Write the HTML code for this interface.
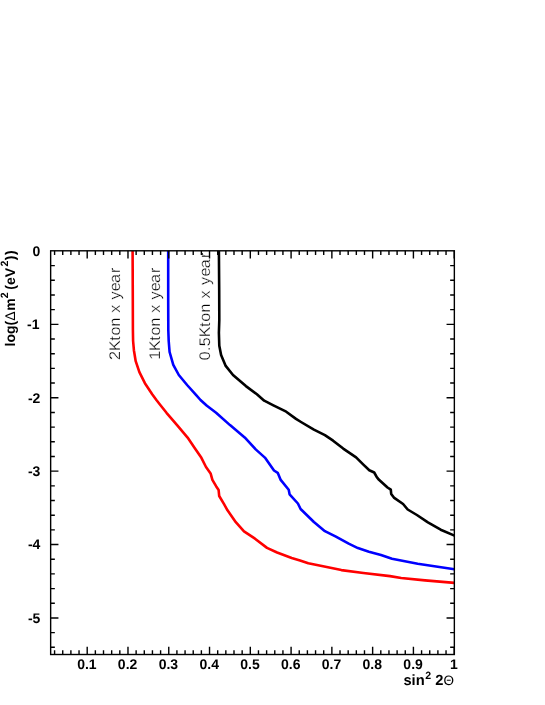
<!DOCTYPE html>
<html><head><meta charset="utf-8"><title>plot</title>
<style>html,body{margin:0;padding:0;background:#fff;}svg{display:block;will-change:transform;}text{font-family:"Liberation Sans",sans-serif;text-rendering:geometricPrecision;}</style></head><body>
<svg width="545" height="705" viewBox="0 0 545 705">
<rect x="0" y="0" width="545" height="705" fill="#fff"/>
<defs><clipPath id="c"><rect x="50.65" y="250.8" width="403.7" height="403.7"/></clipPath></defs>
<g clip-path="url(#c)" font-size="15.4" fill="#000" stroke="#fff" stroke-width="0.3">
<text transform="translate(120.2,359.9) rotate(-90) scale(1.04,1)" x="-0.05 8.54 18.50 23.37 32.05 40.71 45.35 53.34 58.02 66.00 73.97 83.59">2Kton x year</text>
<text transform="translate(160.4,359.9) rotate(-90) scale(1.04,1)" x="0.05 8.54 18.50 23.37 32.05 40.71 45.35 53.34 58.02 66.00 73.97 83.59">1Kton x year</text>
<text transform="translate(209.8,360.5) rotate(-90) scale(1.04,1)" x="0.21 9.09 13.64 22.27 32.34 37.33 46.16 54.90 59.69 67.75 72.58 80.71 88.81 98.57">0.5Kton x year</text>
</g>
<g clip-path="url(#c)" fill="none" stroke-width="2.6" stroke-linejoin="round" stroke-linecap="butt">
<path d="M218.9,251.0 L219.2,290.0 L219.3,320.0 L218.9,332.8 L219.3,345.7 L221.1,354.9 L225.7,365.9 L233.0,375.0 L245.9,386.1 L256.9,394.3 L264.2,400.7 L273.4,405.3 L286.2,411.7 L296.0,418.9 L301.0,422.0 L313.9,429.7 L324.9,435.2 L333.1,440.7 L343.2,448.6 L356.1,457.4 L363.4,464.6 L369.3,470.3 L374.2,472.5 L376.8,477.2 L379.0,479.8 L387.5,487.5 L390.8,489.7 L391.2,493.9 L393.9,497.6 L403.1,504.0 L407.7,509.5 L416.9,515.0 L427.9,522.4 L440.7,529.7 L454.5,535.6" stroke="#000"/>
<path d="M168.2,251.0 L168.2,300.0 L168.3,330.0 L168.7,341.0 L169.6,352.0 L173.3,364.9 L178.8,375.0 L187.1,385.0 L196.2,395.1 L200.5,400.0 L206.9,405.8 L216.1,412.8 L230.0,425.1 L244.7,437.4 L255.7,449.4 L264.9,457.6 L274.0,470.5 L277.7,472.8 L280.5,479.6 L288.7,489.7 L289.6,494.3 L297.9,503.5 L300.6,509.0 L313.9,522.0 L324.9,531.2 L335.9,536.7 L348.7,543.7 L357.9,548.1 L368.9,551.7 L381.0,555.0 L392.0,558.7 L417.7,563.7 L454.4,569.2" stroke="#0000ff"/>
<path d="M132.6,251.0 L132.8,300.0 L132.9,330.0 L133.1,341.0 L133.9,350.2 L135.7,361.2 L139.4,372.2 L144.9,383.2 L152.2,394.2 L156.4,400.0 L160.5,405.2 L166.5,412.8 L177.5,425.7 L187.6,437.6 L195.0,448.6 L201.4,457.8 L206.0,467.0 L210.6,473.4 L212.4,479.8 L216.1,486.2 L218.6,489.9 L219.2,496.0 L223.9,503.9 L227.5,510.3 L235.8,522.2 L244.0,531.4 L255.0,538.7 L267.0,547.9 L277.1,552.5 L291.7,558.0 L300.0,560.4 L308.3,563.3 L326.7,567.0 L341.4,570.1 L363.4,573.0 L390.0,576.1 L401.2,578.0 L425.0,580.4 L454.4,582.9" stroke="#ff0000"/>
</g>
<g stroke="#000" stroke-width="1.4" fill="none" stroke-linecap="butt">
<rect x="50.65" y="250.8" width="403.7" height="403.7"/>
<path d="M54.58,654.5v-4.2M54.58,250.8v4.2M62.73,654.5v-4.2M62.73,250.8v4.2M70.89,654.5v-4.2M70.89,250.8v4.2M79.04,654.5v-4.2M79.04,250.8v4.2M87.20,654.5v-7.8M87.20,250.8v7.8M95.36,654.5v-4.2M95.36,250.8v4.2M103.51,654.5v-4.2M103.51,250.8v4.2M111.67,654.5v-4.2M111.67,250.8v4.2M119.82,654.5v-4.2M119.82,250.8v4.2M127.98,654.5v-7.8M127.98,250.8v7.8M136.13,654.5v-4.2M136.13,250.8v4.2M144.29,654.5v-4.2M144.29,250.8v4.2M152.44,654.5v-4.2M152.44,250.8v4.2M160.60,654.5v-4.2M160.60,250.8v4.2M168.76,654.5v-7.8M168.76,250.8v7.8M176.91,654.5v-4.2M176.91,250.8v4.2M185.07,654.5v-4.2M185.07,250.8v4.2M193.22,654.5v-4.2M193.22,250.8v4.2M201.38,654.5v-4.2M201.38,250.8v4.2M209.53,654.5v-7.8M209.53,250.8v7.8M217.69,654.5v-4.2M217.69,250.8v4.2M225.84,654.5v-4.2M225.84,250.8v4.2M234.00,654.5v-4.2M234.00,250.8v4.2M242.16,654.5v-4.2M242.16,250.8v4.2M250.31,654.5v-7.8M250.31,250.8v7.8M258.47,654.5v-4.2M258.47,250.8v4.2M266.62,654.5v-4.2M266.62,250.8v4.2M274.78,654.5v-4.2M274.78,250.8v4.2M282.93,654.5v-4.2M282.93,250.8v4.2M291.09,654.5v-7.8M291.09,250.8v7.8M299.24,654.5v-4.2M299.24,250.8v4.2M307.40,654.5v-4.2M307.40,250.8v4.2M315.56,654.5v-4.2M315.56,250.8v4.2M323.71,654.5v-4.2M323.71,250.8v4.2M331.87,654.5v-7.8M331.87,250.8v7.8M340.02,654.5v-4.2M340.02,250.8v4.2M348.18,654.5v-4.2M348.18,250.8v4.2M356.33,654.5v-4.2M356.33,250.8v4.2M364.49,654.5v-4.2M364.49,250.8v4.2M372.64,654.5v-7.8M372.64,250.8v7.8M380.80,654.5v-4.2M380.80,250.8v4.2M388.96,654.5v-4.2M388.96,250.8v4.2M397.11,654.5v-4.2M397.11,250.8v4.2M405.27,654.5v-4.2M405.27,250.8v4.2M413.42,654.5v-7.8M413.42,250.8v7.8M421.58,654.5v-4.2M421.58,250.8v4.2M429.73,654.5v-4.2M429.73,250.8v4.2M437.89,654.5v-4.2M437.89,250.8v4.2M446.04,654.5v-4.2M446.04,250.8v4.2M454.20,654.5v-7.8M454.20,250.8v7.8M50.65,265.63h4.2M454.35,265.63h-4.2M50.65,280.31h4.2M454.35,280.31h-4.2M50.65,294.99h4.2M454.35,294.99h-4.2M50.65,309.67h4.2M454.35,309.67h-4.2M50.65,324.35h7.8M454.35,324.35h-7.8M50.65,339.03h4.2M454.35,339.03h-4.2M50.65,353.71h4.2M454.35,353.71h-4.2M50.65,368.39h4.2M454.35,368.39h-4.2M50.65,383.07h4.2M454.35,383.07h-4.2M50.65,397.75h7.8M454.35,397.75h-7.8M50.65,412.43h4.2M454.35,412.43h-4.2M50.65,427.11h4.2M454.35,427.11h-4.2M50.65,441.79h4.2M454.35,441.79h-4.2M50.65,456.47h4.2M454.35,456.47h-4.2M50.65,471.15h7.8M454.35,471.15h-7.8M50.65,485.83h4.2M454.35,485.83h-4.2M50.65,500.51h4.2M454.35,500.51h-4.2M50.65,515.19h4.2M454.35,515.19h-4.2M50.65,529.87h4.2M454.35,529.87h-4.2M50.65,544.55h7.8M454.35,544.55h-7.8M50.65,559.23h4.2M454.35,559.23h-4.2M50.65,573.91h4.2M454.35,573.91h-4.2M50.65,588.59h4.2M454.35,588.59h-4.2M50.65,603.27h4.2M454.35,603.27h-4.2M50.65,617.95h7.8M454.35,617.95h-7.8M50.65,632.63h4.2M454.35,632.63h-4.2M50.65,647.31h4.2M454.35,647.31h-4.2"/>
</g>
<g font-size="14" font-weight="bold" fill="#000">
<text x="86.9" y="668.8" text-anchor="middle">0.1</text>
<text x="127.6" y="668.8" text-anchor="middle">0.2</text>
<text x="168.4" y="668.8" text-anchor="middle">0.3</text>
<text x="209.2" y="668.8" text-anchor="middle">0.4</text>
<text x="250.0" y="668.8" text-anchor="middle">0.5</text>
<text x="290.7" y="668.8" text-anchor="middle">0.6</text>
<text x="331.5" y="668.8" text-anchor="middle">0.7</text>
<text x="372.3" y="668.8" text-anchor="middle">0.8</text>
<text x="413.1" y="668.8" text-anchor="middle">0.9</text>
<text x="453.8" y="668.8" text-anchor="middle">1</text>
<text x="40.4" y="255.7" text-anchor="end">0</text>
<text x="39.5" y="329.1" text-anchor="end">-1</text>
<text x="40.4" y="402.5" text-anchor="end">-2</text>
<text x="40.4" y="475.9" text-anchor="end">-3</text>
<text x="40.4" y="549.3" text-anchor="end">-4</text>
<text x="40.4" y="622.7" text-anchor="end">-5</text>
</g>
<g font-size="15" font-weight="bold" fill="#000">
<text x="454" y="685.2" text-anchor="end" font-size="14.7">sin<tspan font-size="10.6" dy="-6.2" dx="0.7">2</tspan><tspan dy="6.2"> 2</tspan><tspan font-weight="normal" font-size="13.5">&#920;</tspan></text>
<text transform="translate(14.8,346.4) rotate(-90)" font-size="14">log(<tspan font-weight="normal" font-size="14">&#916;</tspan><tspan dx="0.6">m</tspan><tspan font-size="10.6" dy="-6.4" dx="0.2">2</tspan><tspan dy="6.4" dx="-1.3"> (eV</tspan><tspan font-size="10.6" dy="-6.4" dx="1.4">2</tspan><tspan dy="6.4" dx="0.2">)</tspan><tspan dx="0.7">)</tspan></text>
</g>
</svg></body></html>
